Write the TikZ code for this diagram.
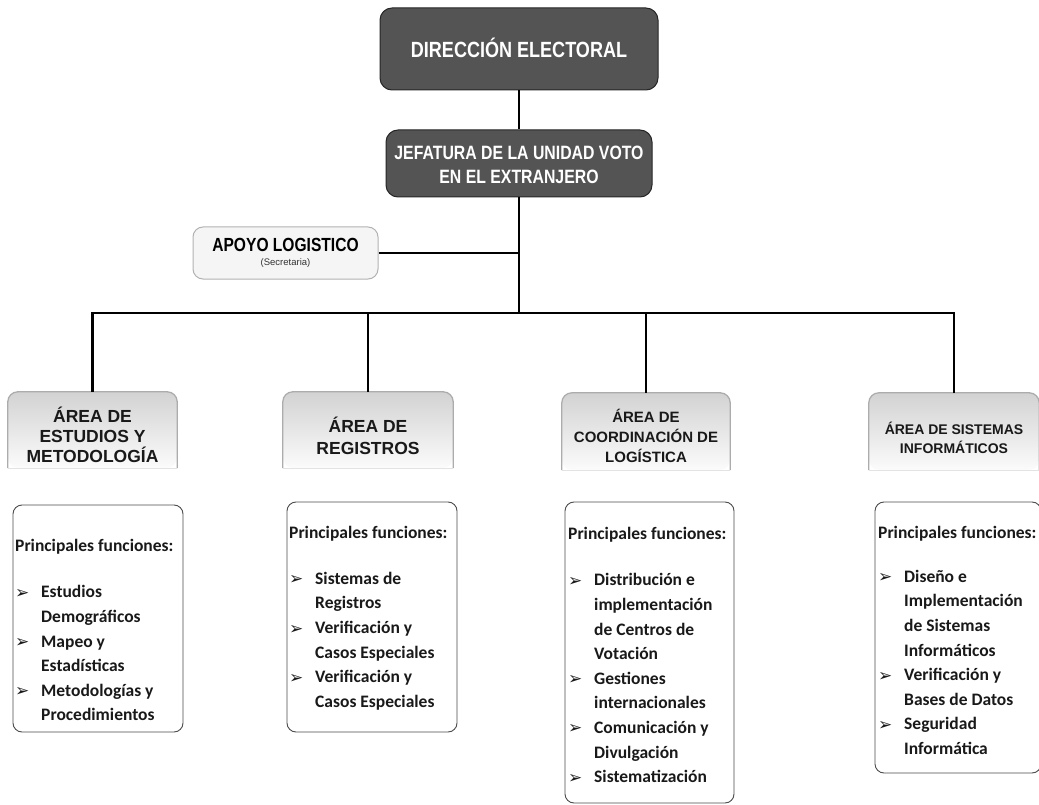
\documentclass[tikz,border=0pt]{standalone}
\usepackage{fontspec}
\setmainfont{Liberation Sans}
\newfontfamily\narrowf[FakeStretch=0.82]{Liberation Sans}
\newfontfamily\calf{Carlito}
\newfontfamily\bulf{DejaVu Sans}
\definecolor{topgray}{RGB}{84,84,84}
\newcommand{\bl}{\makebox[26pt][l]{\raisebox{-0.5pt}{\bulf\fontsize{17}{17}\selectfont ➢}}}
\newcommand{\ct}{\hspace*{26pt}}
\begin{document}
\begin{tikzpicture}[x=1pt,y=-1pt,
  conn/.style={line width=2.2pt, black},
  topbox/.style={draw=black!85, line width=1pt, fill=topgray, rounded corners=12pt, inner sep=0pt},
  toptext/.style={text=white, align=center, inner sep=0pt},
  apobox/.style={draw=gray!60, line width=1pt, fill=gray!8, rounded corners=10pt, inner sep=0pt},
  areabox/.style={rounded corners=10pt, top color=gray!35, bottom color=gray!3, draw=none, inner sep=0pt},
  areaedge/.style={draw=gray!65, line width=1.3pt, rounded corners=10pt},
  areatext/.style={align=center, inner sep=0pt, text=black!90},
  funbox/.style={draw=black!70, line width=0.9pt, fill=white, rounded corners=9pt, inner sep=0pt},
  funtext/.style={align=left, inner sep=0pt, anchor=north west, text=black!90,
    font={\calf\bfseries\fontsize{17.5}{24.6}\selectfont}}
]
\useasboundingbox (0,0) rectangle (1039,805);

% top boxes
\node[topbox, minimum width=278pt, minimum height=82pt] (dir) at (519,49) {};
\node[toptext, font={\narrowf\bfseries\fontsize{22}{24}\selectfont}] (dirt) at (519,48) {DIRECCIÓN ELECTORAL};
\node[topbox, minimum width=266pt, minimum height=67pt] (jef) at (519,163.5) {};
\node[toptext, font={\narrowf\bfseries\fontsize{19.3}{24}\selectfont}] (jeft) at (519,165) {JEFATURA DE LA UNIDAD VOTO\\EN EL EXTRANJERO};

% apoyo
\node[apobox, minimum width=185pt, minimum height=52pt] (apo) at (285.5,253) {};
\node[inner sep=0pt, font={\narrowf\bfseries\fontsize{19}{20}\selectfont}] (apot) at (285.5,245) {APOYO LOGISTICO};
\node[inner sep=0pt, font={\fontsize{9.5}{11}\selectfont}, text=black!80] (apos) at (285.5,263.5) {(Secretaria)};

% area boxes
\node[areabox, minimum width=169pt, minimum height=76pt] (a1) at (92.5,430) {};
\node[areabox, minimum width=170pt, minimum height=76pt] (a2) at (368,430) {};
\node[areabox, minimum width=168pt, minimum height=77pt] (a3) at (646,431.5) {};
\node[areabox, minimum width=170pt, minimum height=77pt] (a4) at (954,431.5) {};
\foreach \a in {a1,a2,a3,a4}{
  \draw[areaedge] (\a.south west) -- (\a.north west) -- (\a.north east) -- (\a.south east);
  \draw[gray!22, line width=1pt] (\a.south west) -- (\a.south east);
}
\node[areatext, font={\bfseries\fontsize{17.5}{20}\selectfont}] (a1t) at (92.5,435) {ÁREA DE\\ESTUDIOS Y\\METODOLOGÍA};
\node[areatext, font={\bfseries\fontsize{17.5}{22}\selectfont}] (a2t) at (368,436) {ÁREA DE\\REGISTROS};
\node[areatext, font={\bfseries\fontsize{15}{20}\selectfont}] (a3t) at (646,436) {ÁREA DE\\COORDINACIÓN DE\\LOGÍSTICA};
\node[areatext, font={\bfseries\fontsize{14}{19}\selectfont}] (a4t) at (954,437.5) {ÁREA DE SISTEMAS\\INFORMÁTICOS};

% function boxes
\node[funbox, minimum width=170pt, minimum height=227pt] (f1) at (98,618.5) {};
\node[funbox, minimum width=170pt, minimum height=230pt] (f2) at (372,617) {};
\node[funbox, minimum width=169pt, minimum height=301pt] (f3) at (649.5,652.5) {};
\node[funbox, minimum width=166pt, minimum height=271pt] (f4) at (958,637.5) {};

\node[funtext] (f1t) at (15,533.8) {\strut Principales funciones:\\[22pt]
\bl Estudios\\ \ct Demográficos\\ \bl Mapeo y\\ \ct Estadísticas\\ \bl Metodologías y\\ \ct Procedimientos};
\node[funtext] (f2t) at (289,520.8) {\strut Principales funciones:\\[21.5pt]
\bl Sistemas de\\ \ct Registros\\ \bl Verificación y\\ \ct Casos Especiales\\ \bl Verificación y\\ \ct Casos Especiales};
\node[funtext] (f3t) at (568,521.8) {\strut Principales funciones:\\[22pt]
\bl Distribución e\\ \ct implementación\\ \ct de Centros de\\ \ct Votación\\ \bl Gestiones\\ \ct internacionales\\ \bl Comunicación y\\ \ct Divulgación\\ \bl Sistematización};
\node[funtext] (f4t) at (878,520.8) {\strut Principales funciones:\\[19.5pt]
\bl Diseño e\\ \ct Implementación\\ \ct de Sistemas\\ \ct Informáticos\\ \bl Verificación y\\ \ct Bases de Datos\\ \bl Seguridad\\ \ct Informática};

% connectors
\coordinate (hub) at (519,313);
\draw[conn] (dir.south) -- (jef.north);
\draw[conn] (jef.south) -- (hub);
\draw[conn] (apo.east) -- (apo.east -| jef.south);
\draw[conn] (a1.north) |- (hub) -| (a4.north);
\draw[conn] (a2.north) -- (a2.north |- hub);
\draw[conn] (a3.north) -- (a3.north |- hub);
\end{tikzpicture}
\end{document}
